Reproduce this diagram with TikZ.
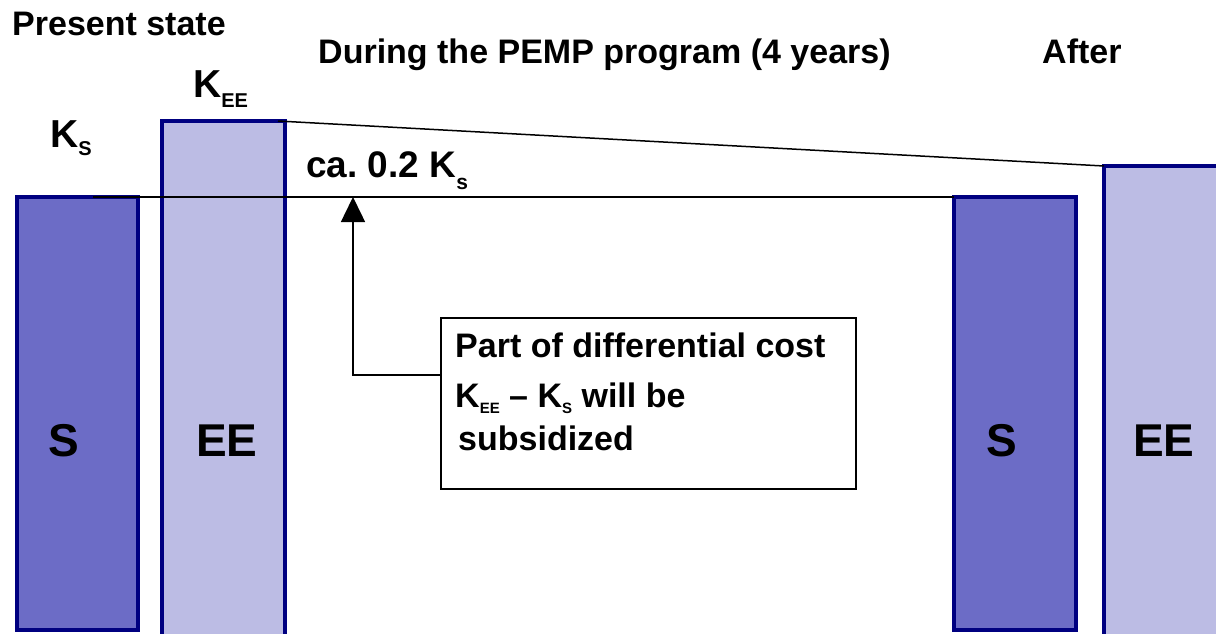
\documentclass[tikz,border=0pt]{standalone}
\usepackage{fontspec}
\setmainfont{Liberation Sans}
\usetikzlibrary{arrows.meta}
\definecolor{navy}{RGB}{0,0,128}
\definecolor{sfill}{RGB}{108,108,198}
\definecolor{eefill}{RGB}{188,188,228}
\newcommand{\lowsub}[3]{\raisebox{-#2pt}{\fontsize{#1}{#1}\selectfont #3}}
\frenchspacing
\tikzset{
  bar/.style={draw=navy, line width=4pt, anchor=north west, inner sep=0pt, outer sep=0pt},
  sbar/.style={bar, fill=sfill},
  eebar/.style={bar, fill=eefill},
  txt/.style={font=\bfseries\fontsize{34}{40}\selectfont, anchor=base west, inner sep=0pt},
  bigk/.style={font=\bfseries\fontsize{39}{44}\selectfont, anchor=base west, inner sep=0pt},
  barlab/.style={font=\bfseries\fontsize{46}{50}\selectfont, anchor=base west, inner sep=0pt},
  thin/.style={draw=black, line width=1.5pt},
  boxst/.style={draw=black, line width=2pt, anchor=north west, inner sep=0pt, outer sep=0pt}
}
\begin{document}
\begin{tikzpicture}[x=1pt, y=-1pt]
\useasboundingbox (0,0) rectangle (1216,633);
% bars
\node[sbar, minimum width=121pt, minimum height=433pt] (s1) at (17,197) {};
\node[eebar, minimum width=123pt, minimum height=516pt] (ee1) at (162,121) {};
\node[sbar, minimum width=122pt, minimum height=433pt] (s2) at (954,197) {};
\node[eebar, minimum width=130pt, minimum height=470pt] (ee2) at (1104,166) {};
% bar labels
\node[barlab] (ls1) at (48,456) {S};
\node[barlab] (lee1) at (196,456) {EE};
\node[barlab] (ls2) at (986,456) {S};
\node[barlab] (lee2) at (1133,456) {EE};
% reference lines
\coordinate (ksline) at (93,197);
\coordinate (keeline) at (278,121);
\draw[thin] (ksline) -- (s2.north west);
\draw[thin] (keeline) -- (ee2.north west);
% titles
\node[txt] (t1) at (12,35) {Present state};
\node[txt] (t2) at (318,63) {During the PEMP program (4 years)};
\node[txt] (t3) at (1042,63) {After};
% K labels
\node[bigk] (kee) at (193,97) {K\lowsub{20}{10}{EE}};
\node[bigk] (ks) at (50,147) {K\lowsub{20}{8}{S}};
\node[txt, font=\bfseries\fontsize{37}{42}\selectfont] (ca) at (306,177) {ca. 0.2 K\lowsub{21}{12}{s}};
% box
\node[boxst, minimum width=415pt, minimum height=171pt] (box) at (441,318) {};
\node[txt] (b1) at (455,357) {Part of differential cost};
\node[txt] (b2) at (455,407) {K\lowsub{15}{6}{EE} -- K\lowsub{15}{6}{S} will be};
\node[txt] (b3) at (458,450) {subsidized};
% arrow
\coordinate (elbow) at (353,375);
\draw[thin, -{Triangle[width=24pt,length=25pt]}] (box.west |- elbow) -- (elbow) -- (elbow |- ksline);
\end{tikzpicture}
\end{document}
